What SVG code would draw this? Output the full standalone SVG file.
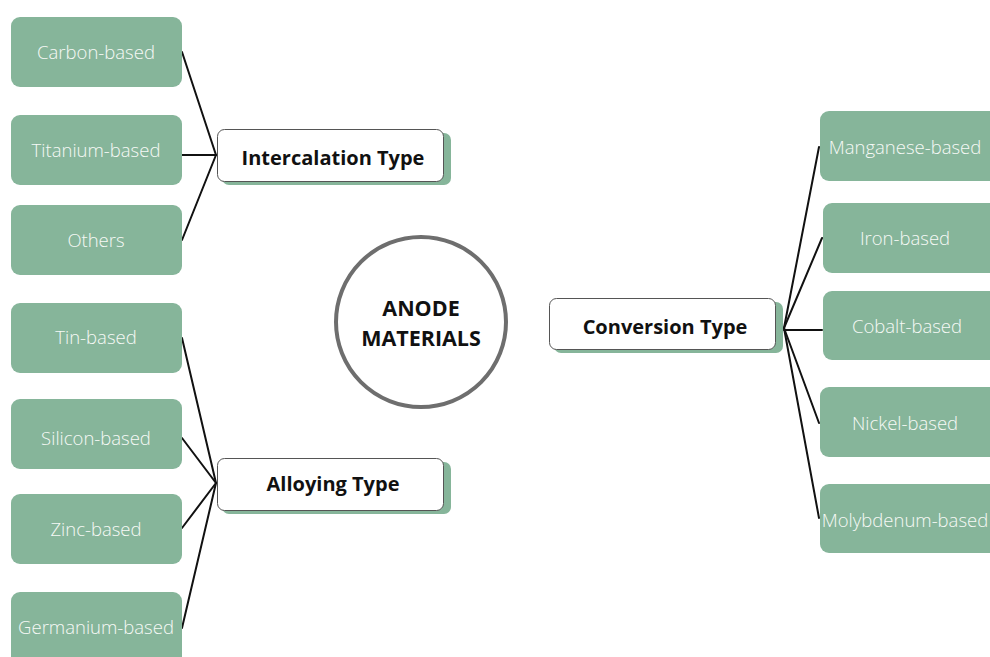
<svg xmlns="http://www.w3.org/2000/svg" width="990" height="657" viewBox="0 0 990 657">
<style>
.leaf{fill:#86b59a}
.lt{font-family:"Open Sans","Liberation Sans",sans-serif;font-size:18.5px;font-weight:300;fill:#f6f9f6;text-anchor:middle;dominant-baseline:central}
.cat{fill:#ffffff;stroke:#555;stroke-width:1}
.sh{fill:#86b59a}
.ct{font-family:"Open Sans","Liberation Sans",sans-serif;font-size:20px;font-weight:bold;fill:#111;text-anchor:middle;dominant-baseline:central}
.big{font-size:21.5px}
.conn line{stroke:#111;stroke-width:2;stroke-linecap:round}
</style>
<rect width="990" height="657" fill="#ffffff"/>
<g class="conn" id="connectors">
<line x1="182" y1="52" x2="216" y2="155"/>
<line x1="182" y1="155" x2="216" y2="155"/>
<line x1="182" y1="240" x2="216" y2="155"/>
<line x1="182" y1="338" x2="216" y2="483"/>
<line x1="182" y1="438" x2="216" y2="483"/>
<line x1="182" y1="528" x2="216" y2="483"/>
<line x1="182" y1="628" x2="216" y2="483"/>
<line x1="784" y1="328" x2="819" y2="147"/>
<line x1="784" y1="328" x2="822" y2="238"/>
<line x1="784" y1="330" x2="822" y2="330"/>
<line x1="784" y1="328" x2="819" y2="423"/>
<line x1="784" y1="328" x2="819" y2="518"/>
</g>
<g id="carbon"><rect class="leaf" x="11" y="17" width="171" height="70" rx="9"/><text class="lt" x="96" y="51">Carbon-based</text></g>
<g id="titanium"><rect class="leaf" x="11" y="115" width="171" height="70" rx="9"/><text class="lt" x="96" y="149">Titanium-based</text></g>
<g id="others"><rect class="leaf" x="11" y="205" width="171" height="70" rx="9"/><text class="lt" x="96" y="239">Others</text></g>
<g id="tin"><rect class="leaf" x="11" y="303" width="171" height="70" rx="9"/><text class="lt" x="96" y="336">Tin-based</text></g>
<g id="silicon"><rect class="leaf" x="11" y="399" width="171" height="70" rx="9"/><text class="lt" x="96" y="437">Silicon-based</text></g>
<g id="zinc"><rect class="leaf" x="11" y="494" width="171" height="70" rx="9"/><text class="lt" x="96" y="528">Zinc-based</text></g>
<g id="germanium"><rect class="leaf" x="11" y="592" width="171" height="75" rx="9"/><text class="lt" x="96" y="626">Germanium-based</text></g>
<g id="intercalation"><rect class="sh" x="222" y="133" width="229" height="52" rx="7"/><rect class="cat" x="217.5" y="129.5" width="226" height="52" rx="7"/><text class="ct" x="333" y="157">Intercalation Type</text></g>
<g id="alloying"><rect class="sh" x="222" y="462" width="229" height="52" rx="7"/><rect class="cat" x="217.5" y="458.5" width="226" height="52" rx="7"/><text class="ct" x="333" y="483">Alloying Type</text></g>
<g id="conversion"><rect class="sh" x="554" y="302" width="229" height="51" rx="7"/><rect class="cat" x="549.5" y="298.5" width="226" height="51" rx="7"/><text class="ct" x="665" y="326">Conversion Type</text></g>
<g id="anode"><circle cx="421" cy="322" r="85" fill="#ffffff" stroke="#6e6e6e" stroke-width="4"/><text class="ct big" x="421" y="307">ANODE</text><text class="ct big" x="421" y="337">MATERIALS</text></g>
<g id="manganese"><rect class="leaf" x="820" y="111" width="180" height="70" rx="9"/><text class="lt" x="905" y="146">Manganese-based</text></g>
<g id="iron"><rect class="leaf" x="823" y="203" width="177" height="70" rx="9"/><text class="lt" x="905" y="237">Iron-based</text></g>
<g id="cobalt"><rect class="leaf" x="823" y="291" width="177" height="69" rx="9"/><text class="lt" x="907" y="325">Cobalt-based</text></g>
<g id="nickel"><rect class="leaf" x="820" y="387" width="180" height="70" rx="9"/><text class="lt" x="905" y="422">Nickel-based</text></g>
<g id="molybdenum"><rect class="leaf" x="820" y="484" width="180" height="69" rx="9"/><text class="lt" x="905" y="519">Molybdenum-based</text></g>
</svg>
